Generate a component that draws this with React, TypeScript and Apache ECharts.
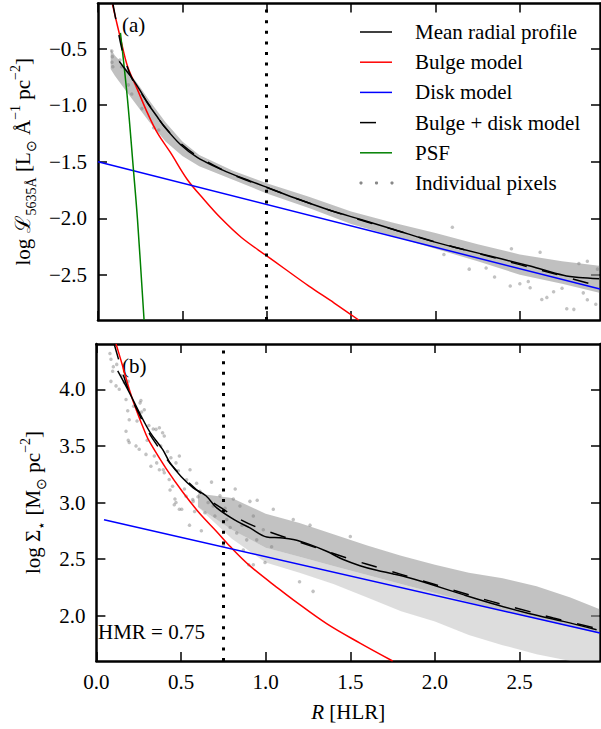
import React, { useEffect, useRef } from 'react';
import * as echarts from 'echarts';

// ---------- axes ----------
const X_RANGE = [0, 2.975];
const X_TICKS = [0, 0.5, 1.0, 1.5, 2.0, 2.5];
const Y_RANGE_A = [-2.9, -0.1];
const Y_TICKS_A = [-2.5, -2.0, -1.5, -1.0, -0.5];
const Y_RANGE_B = [1.6, 4.4];
const Y_TICKS_B = [2.0, 2.5, 3.0, 3.5, 4.0];
const HLR_MARK = 1.0;
const HMR = 0.75;

const LEGEND_LABELS = ['Mean radial profile', 'Bulge model', 'Disk model', 'Bulge + disk model', 'PSF', 'Individual pixels'];

// ---------- panel (a): luminosity ----------
const meanA: number[][] = [
  [0.126, -0.612], [0.16, -0.68], [0.194, -0.745], [0.25, -0.87], [0.293, -0.98], [0.35, -1.1],
  [0.391, -1.186], [0.49, -1.35], [0.588, -1.462], [0.7, -1.548], [0.785, -1.603], [0.9, -1.67],
  [0.982, -1.716], [1.163, -1.819], [1.36, -1.922], [1.557, -2.011], [1.754, -2.099], [1.97, -2.2],
  [2.167, -2.276], [2.364, -2.349], [2.561, -2.423], [2.758, -2.505], [2.85, -2.525], [2.97, -2.535],
];
const bulgeA: number[][] = [
  [0.086, -0.11], [0.135, -0.42], [0.175, -0.656], [0.234, -0.862], [0.293, -1.068], [0.352, -1.245],
  [0.43, -1.42], [0.529, -1.657], [0.628, -1.834], [0.726, -1.996], [0.85, -2.17], [1.0, -2.333],
  [1.1, -2.44], [1.25, -2.6], [1.4, -2.75], [1.545, -2.9],
];
const diskA: number[][] = [[0, -1.5], [2.975, -2.626]];
const modelA: number[][] = [
  [0.088, -0.1], [0.12, -0.35], [0.15, -0.55], [0.2, -0.76], [0.25, -0.88], [0.3, -0.99], [0.4, -1.2],
  [0.5, -1.35], [0.6, -1.46], [0.8, -1.615], [1.0, -1.728], [1.25, -1.865], [1.5, -1.99], [1.75, -2.1],
  [2.0, -2.21], [2.25, -2.31], [2.5, -2.41], [2.75, -2.51], [2.94, -2.59],
];
const psfA: number[][] = [[0.133, -0.36], [0.175, -0.95], [0.21, -1.57], [0.234, -2.01], [0.273, -2.9]];
const bandA_R = [0.075, 0.1, 0.15, 0.2, 0.25, 0.3, 0.4, 0.5, 0.6, 0.8, 1.0, 1.25, 1.5, 1.75, 2.0, 2.25, 2.5, 2.75, 2.97];
const bandA_hi = [-0.5, -0.56, -0.64, -0.74, -0.84, -0.95, -1.15, -1.32, -1.44, -1.58, -1.69, -1.81, -1.94, -2.04, -2.13, -2.23, -2.32, -2.38, -2.42];
const bandA_lo = [-0.68, -0.74, -0.84, -0.94, -1.04, -1.14, -1.32, -1.45, -1.54, -1.66, -1.78, -1.91, -2.05, -2.16, -2.27, -2.38, -2.5, -2.58, -2.66];
const pixelsA: number[][] = [
  [2.443, -2.6], [2.561, -2.614], [2.63, -2.718], [2.66, -2.7], [2.778, -2.8], [2.876, -2.66], [2.82, -2.806],
  [2.5, -2.58], [2.7, -2.65], [2.9, -2.72], [2.2, -2.45], [2.35, -2.52], [2.95, -2.76], [0.082, -0.52],
  [0.085, -0.57], [0.083, -0.62], [0.088, -0.66], [0.13, -0.6], [0.14, -0.66], [0.18, -0.82], [0.2, -0.9],
  [0.26, -1.03], [0.33, -1.2], [0.36, -1.22], [2.1, -2.08], [2.45, -2.27], [2.62, -2.3], [2.9, -2.38],
  [2.05, -2.32], [2.3, -2.44], [2.55, -2.56], [2.75, -2.62], [2.85, -2.4], [2.96, -2.45],
];

// ---------- panel (b): stellar mass surface density ----------
const meanB: number[][] = [
  [0.126, 4.162], [0.195, 3.97], [0.254, 3.794], [0.317, 3.62], [0.391, 3.469], [0.435, 3.35], [0.5, 3.23],
  [0.572, 3.13], [0.647, 3.06], [0.711, 2.953], [0.829, 2.835], [0.907, 2.776], [1.006, 2.696], [1.084, 2.688],
  [1.163, 2.673], [1.262, 2.628], [1.36, 2.569], [1.458, 2.496], [1.557, 2.442], [1.656, 2.401], [1.754, 2.369],
  [1.852, 2.333], [1.97, 2.28], [2.167, 2.186], [2.364, 2.097], [2.561, 2.018], [2.758, 1.95], [2.955, 1.876],
];
const bulgeB: number[][] = [
  [0.116, 4.4], [0.155, 4.206], [0.194, 4.0], [0.234, 3.823], [0.293, 3.6], [0.317, 3.528], [0.415, 3.292],
  [0.513, 3.086], [0.612, 2.9], [0.711, 2.742], [0.789, 2.613], [0.907, 2.44], [1.084, 2.23], [1.163, 2.14],
  [1.36, 1.93], [1.557, 1.758], [1.75, 1.6],
];
const diskB: number[][] = [[0.045, 2.847], [2.975, 1.847]];
const modelB: number[][] = [
  [0.105, 4.4], [0.15, 4.17], [0.2, 3.95], [0.25, 3.79], [0.3, 3.64], [0.37, 3.48], [0.45, 3.32], [0.55, 3.17],
  [0.65, 3.04], [0.75, 2.94], [0.85, 2.85], [0.95, 2.78], [1.1, 2.7], [1.3, 2.6], [1.5, 2.5], [1.7, 2.41],
  [1.9, 2.32], [2.1, 2.23], [2.3, 2.14], [2.5, 2.06], [2.7, 1.98], [2.95, 1.89],
];
const bandB_R = [0.6, 0.8, 1.0, 1.2, 1.4, 1.6, 1.8, 2.0, 2.2, 2.4, 2.6, 2.8, 2.97];
const bandB_hi = [3.08, 3.04, 2.9, 2.82, 2.72, 2.62, 2.53, 2.45, 2.38, 2.33, 2.26, 2.16, 2.06];
const bandB_mid = [2.96, 2.76, 2.6, 2.52, 2.44, 2.36, 2.28, 2.2, 2.12, 2.04, 1.97, 1.9, 1.84];
const bandB_lo = [2.96, 2.68, 2.47, 2.38, 2.28, 2.16, 2.04, 1.95, 1.83, 1.74, 1.66, 1.6, 1.58];
const pixelsB: number[][] = [
  [0.08, 4.316], [0.086, 4.265], [0.096, 4.16], [0.086, 4.07], [0.116, 4.03], [0.135, 4.0], [0.165, 4.06],
  [0.188, 4.07], [0.175, 3.91], [0.185, 3.81], [0.263, 3.9], [0.258, 3.88], [0.283, 3.82], [0.267, 3.8],
  [0.194, 3.73], [0.175, 3.63], [0.194, 3.53], [0.188, 3.55], [0.234, 3.5], [0.253, 3.47], [0.293, 3.425],
  [0.342, 3.41], [0.352, 3.646], [0.336, 3.65], [0.372, 3.66], [0.391, 3.617], [0.401, 3.587], [0.322, 3.32],
  [0.372, 3.29], [0.401, 3.263], [0.43, 3.204], [0.45, 3.144], [0.47, 3.0], [0.49, 2.94], [0.46, 2.98],
  [0.53, 3.056], [0.569, 3.027], [0.49, 3.41], [0.44, 3.395], [0.47, 3.35], [0.15, 4.12], [0.22, 3.85],
  [0.24, 3.72], [0.3, 3.55], [0.31, 3.68], [0.38, 3.5], [0.42, 3.45], [0.1, 4.2], [0.12, 4.22],
  [1.045, 2.94], [1.163, 2.85], [1.262, 2.8], [0.95, 3.02], [1.5, 2.7], [1.28, 2.215], [0.9, 2.45],
  [1.2, 2.3], [0.75, 2.62], [0.62, 2.75], [0.55, 2.8], [0.68, 3.18], [0.82, 3.12],
  [0.356, 3.35], [0.464, 3.03], [0.504, 2.94], [0.572, 3.01], [0.641, 2.91], [0.73, 3.06], [0.809, 3.03],
  [0.848, 2.97], [0.907, 3.01], [0.927, 2.88], [0.986, 2.76], [0.947, 2.67], [0.996, 2.47], [0.927, 2.45],
  [0.868, 2.58], [1.035, 2.61], [0.612, 3.1], [0.533, 3.2], [0.484, 3.28], [0.395, 3.29], [0.435, 3.11],
  [0.553, 3.29], [0.592, 3.17], [0.69, 2.97], [0.77, 2.85], [0.829, 2.73], [0.888, 2.67], [0.52, 3.12],
  [0.6, 3.05], [0.66, 3.0], [0.7, 2.88], [0.76, 2.95], [0.79, 2.78], [0.86, 2.8], [0.58, 2.92],
];

const FONT = 'Liberation Serif';
const FS = 21;
const fmt = (v: number) => v.toFixed(1).replace('-', '\u2212');

function xAxisDef(gridIndex: number, position: 'top' | 'bottom', labels: boolean, withName: boolean) {
  return {
    type: 'value', gridIndex, position, min: X_RANGE[0], max: X_RANGE[1],
    axisLine: { show: true, onZero: false, lineStyle: { color: '#000', width: 2.5 } },
    axisTick: { show: true, inside: true, length: 9, customValues: X_TICKS, lineStyle: { color: '#000', width: 1.5 } },
    axisLabel: { show: labels, customValues: X_TICKS, formatter: fmt, color: '#000', fontFamily: FONT, fontSize: FS, margin: 10 },
    splitLine: { show: false },
    name: withName ? '{i|R}{t| [HLR]}' : '',
    nameLocation: 'middle', nameGap: 40,
    nameTextStyle: {
      color: '#000', fontFamily: FONT, fontSize: FS,
      rich: { i: { fontStyle: 'italic', fontFamily: FONT, fontSize: FS, color: '#000' }, t: { fontFamily: FONT, fontSize: FS, color: '#000' } },
    },
  };
}

function yAxisDef(gridIndex: number, position: 'left' | 'right', range: number[], ticks: number[], labels: boolean, name: string, nameGap: number) {
  return {
    type: 'value', gridIndex, position, min: range[0], max: range[1],
    axisLine: { show: true, onZero: false, lineStyle: { color: '#000', width: 2.5 } },
    axisTick: { show: true, inside: true, length: 9, customValues: ticks, lineStyle: { color: '#000', width: 1.5 } },
    axisLabel: { show: labels, customValues: ticks, formatter: fmt, color: '#000', fontFamily: FONT, fontSize: FS, margin: 11 },
    splitLine: { show: false },
    name, nameLocation: 'middle', nameGap, nameRotate: 90,
    nameTextStyle: {
      color: '#000', fontFamily: FONT, fontSize: FS,
      rich: {
        t: { fontFamily: FONT, fontSize: FS, color: '#000', lineHeight: 30 },
        s: { fontFamily: FONT, fontSize: 14, color: '#000', verticalAlign: 'bottom', lineHeight: 16 },
        p: { fontFamily: FONT, fontSize: 14, color: '#000', verticalAlign: 'top', lineHeight: 16 },
      },
    },
  };
}

function lineSeries(name: string, data: number[][], color: string, axis: number, extra: any = {}) {
  return {
    type: 'line', name, data, xAxisIndex: axis, yAxisIndex: axis, showSymbol: false, symbol: 'none',
    smooth: 0.35, silent: true, clip: true, z: 3,
    lineStyle: { color, width: 1.5 }, ...extra,
  };
}

function bandSeries(axis: number, rs: number[], hi: number[], lo: number[], fill: string) {
  return {
    type: 'custom', xAxisIndex: axis, yAxisIndex: axis, silent: true, clip: true, z: 1,
    data: [[rs[0], hi[0]]],
    encode: { x: 0, y: 1 },
    renderItem: (_params: any, api: any) => {
      const pts: number[][] = [];
      for (let i = 0; i < rs.length; i++) pts.push(api.coord([rs[i], hi[i]]));
      for (let i = rs.length - 1; i >= 0; i--) pts.push(api.coord([rs[i], lo[i]]));
      return { type: 'polygon', shape: { points: pts }, style: { fill, stroke: 'none' } };
    },
  };
}

function pixelSeries(axis: number, data: number[][]) {
  return {
    type: 'scatter', data, xAxisIndex: axis, yAxisIndex: axis, symbolSize: 3.5, silent: true, z: 2,
    itemStyle: { color: 'rgba(128,128,128,0.6)' },
  };
}

function vline(axis: number, x: number) {
  return {
    type: 'line', data: [], xAxisIndex: axis, yAxisIndex: axis, silent: true, z: 5,
    markLine: {
      silent: true, symbol: ['none', 'none'], label: { show: false },
      lineStyle: { color: '#000', width: 3, type: [3, 7.6], cap: 'butt' },
      data: [{ xAxis: x }],
    },
  };
}

export default function App() {
  const ref = useRef<HTMLDivElement>(null);
  useEffect(() => {
    if (!ref.current) return;
    const chart = echarts.init(ref.current, null, { renderer: 'svg' });
    const legendColors = ['#000', '#ff0000', '#0000ff', '#000', '#008000', '#888'];
    const legendY0 = 32;
    const legendDy = 30.2;
    const legendEls: any[] = [];
    LEGEND_LABELS.forEach((lab, i) => {
      const y = legendY0 + i * legendDy;
      if (i === 5) {
        [361, 376.5, 392].forEach((cx) => legendEls.push({ type: 'circle', shape: { cx, cy: y, r: 1.6 }, style: { fill: '#888' } }));
      } else {
        legendEls.push({
          type: 'line', shape: { x1: 360, y1: y, x2: 392, y2: y },
          style: { stroke: legendColors[i], lineWidth: 1.5, lineDash: i === 3 ? [16, 16] : null },
        });
      }
      legendEls.push({ type: 'text', x: 415, y, style: { text: lab, fontFamily: FONT, fontSize: FS, fill: '#000', verticalAlign: 'middle', align: 'left' } });
    });

    chart.setOption({
      animation: false,
      backgroundColor: '#fff',
      grid: [
        { left: 96.4, top: 3.5, width: 503.6, height: 316.5 },
        { left: 96.4, top: 344, width: 503.6, height: 317 },
      ],
      xAxis: [
        xAxisDef(0, 'bottom', false, false),
        xAxisDef(0, 'top', false, false),
        xAxisDef(1, 'bottom', true, true),
        xAxisDef(1, 'top', false, false),
      ],
      yAxis: [
        yAxisDef(0, 'left', Y_RANGE_A, Y_TICKS_A, true,
          '{t|log ℒ}{s|5635Å}{t| [L}{s|⊙}{t| Å}{p|−1}{t| pc}{p|−2}{t|]}', 54),
        yAxisDef(0, 'right', Y_RANGE_A, Y_TICKS_A, false, '', 0),
        yAxisDef(1, 'left', Y_RANGE_B, Y_TICKS_B, true,
          '{t|log Σ}{s|⋆}{t| [M}{s|⊙}{t| pc}{p|−2}{t|]}', 46),
        yAxisDef(1, 'right', Y_RANGE_B, Y_TICKS_B, false, '', 0),
      ],
      series: [
        bandSeries(0, bandA_R, bandA_hi, bandA_lo, 'rgba(150,150,150,0.6)'),
        pixelSeries(0, pixelsA),
        lineSeries('Bulge model', bulgeA, '#ff0000', 0),
        lineSeries('Disk model', diskA, '#0000ff', 0, { smooth: false }),
        lineSeries('PSF', psfA, '#008000', 0),
        lineSeries('Mean radial profile', meanA, '#000', 0),
        lineSeries('Bulge + disk model', modelA, '#000', 0, { lineStyle: { color: '#000', width: 1.5, type: [16, 16] } }),
        vline(0, HLR_MARK),

        bandSeries(2, bandB_R, bandB_mid, bandB_lo, 'rgba(165,165,165,0.38)'),
        bandSeries(2, bandB_R, bandB_hi, bandB_mid, 'rgba(150,150,150,0.58)'),
        pixelSeries(2, pixelsB),
        lineSeries('Bulge model', bulgeB, '#ff0000', 2),
        lineSeries('Disk model', diskB, '#0000ff', 2, { smooth: false }),
        lineSeries('Mean radial profile', meanB, '#000', 2),
        lineSeries('Bulge + disk model', modelB, '#000', 2, { lineStyle: { color: '#000', width: 1.5, type: [16, 16] } }),
        vline(2, HMR),
      ],
      graphic: [
        ...legendEls,
        { type: 'text', x: 122, y: 25, style: { text: '(a)', fontFamily: FONT, fontSize: FS, fill: '#000', verticalAlign: 'middle' } },
        { type: 'text', x: 122, y: 366, style: { text: '(b)', fontFamily: FONT, fontSize: FS, fill: '#000', verticalAlign: 'middle' } },
        { type: 'text', x: 98, y: 632, style: { text: 'HMR = ' + HMR.toFixed(2), fontFamily: FONT, fontSize: FS, fill: '#000', verticalAlign: 'middle' } },
      ],
    });
    return () => chart.dispose();
  }, []);
  return <div ref={ref} style={{ position: 'fixed', left: 0, top: 0, width: 601, height: 729, background: '#fff' }} />;
}
